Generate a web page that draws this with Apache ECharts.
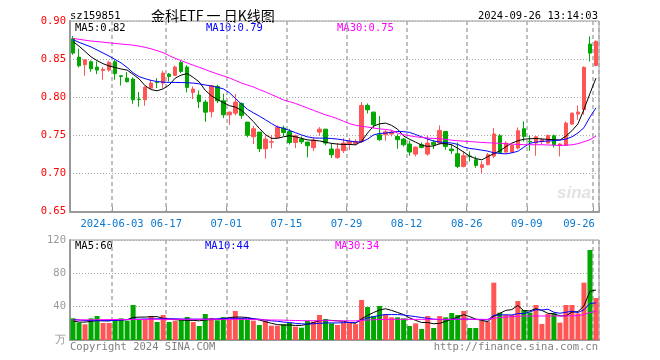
<!DOCTYPE html>
<html><head><meta charset="utf-8">
<script src="https://cdn.jsdelivr.net/npm/echarts@6/dist/echarts.min.js"></script>
<style>html,body{margin:0;padding:0;background:#fff}#c{width:660px;height:360px}</style>
</head><body><div id="c"></div>
<script>
const dates = [
'2024-05-23','2024-05-24','2024-05-27','2024-05-28','2024-05-29','2024-05-30','2024-05-31',
'2024-06-03','2024-06-04','2024-06-05','2024-06-06','2024-06-07','2024-06-11','2024-06-12','2024-06-13','2024-06-14',
'2024-06-17','2024-06-18','2024-06-19','2024-06-20','2024-06-21','2024-06-24','2024-06-25','2024-06-26','2024-06-27','2024-06-28',
'2024-07-01','2024-07-02','2024-07-03','2024-07-04','2024-07-05','2024-07-08','2024-07-09','2024-07-10','2024-07-11','2024-07-12',
'2024-07-15','2024-07-16','2024-07-17','2024-07-18','2024-07-19','2024-07-22','2024-07-23','2024-07-24','2024-07-25','2024-07-26',
'2024-07-29','2024-07-30','2024-07-31','2024-08-01','2024-08-02','2024-08-05','2024-08-06','2024-08-07','2024-08-08','2024-08-09',
'2024-08-12','2024-08-13','2024-08-14','2024-08-15','2024-08-16','2024-08-19','2024-08-20','2024-08-21','2024-08-22','2024-08-23',
'2024-08-26','2024-08-27','2024-08-28','2024-08-29','2024-08-30','2024-09-02','2024-09-03','2024-09-04','2024-09-05','2024-09-06',
'2024-09-09','2024-09-10','2024-09-11','2024-09-12','2024-09-13','2024-09-18','2024-09-19','2024-09-20',
'2024-09-23','2024-09-24','2024-09-25','2024-09-26'];
const tickDates = ['2024-06-03','2024-06-17','2024-07-01','2024-07-15','2024-07-29','2024-08-12','2024-08-26','2024-09-09','2024-09-26'];

const openP = [.8767,.8526,.8426,.8465,.8395,.8351,.8356,.8465,.8281,.8251,
 .8238,.7975,.7966,.8119,.8198,.8185,.8303,.8286,.8456,.8395,
 .8063,.8028,.7936,.7809,.8141,.7953,.7769,.7791,.7918,.7673,
 .7481,.7542,.7324,.7410,.7472,.7594,.7550,.7406,.7450,.7411,
 .7337,.7542,.7581,.7319,.7210,.7298,.7394,.7389,.7415,.7892,
 .7804,.7507,.7507,.7516,.7485,.7450,.7385,.7253,.7376,.7254,
 .7407,.7398,.7551,.7319,.7258,.7092,.7227,.7180,.7079,.7114,
 .7227,.7494,.7280,.7280,.7332,.7586,.7420,.7398,.7420,.7398,
 .7494,.7367,.7367,.7647,.7778,.7835,.8697,.8417];
const closeP = [.8579,.8413,.8491,.8373,.8356,.8364,.8456,.8308,.8273,.8203,
 .7966,.7970,.8133,.8185,.8194,.8316,.8273,.8395,.8338,.8128,
 .8106,.7940,.7804,.8150,.7953,.7769,.7804,.7936,.7761,.7500,
 .7586,.7324,.7450,.7415,.7607,.7537,.7406,.7494,.7415,.7363,
 .7437,.7581,.7398,.7245,.7319,.7398,.7420,.7420,.7892,.7835,
 .7638,.7442,.7546,.7542,.7442,.7376,.7280,.7345,.7341,.7398,
 .7376,.7564,.7354,.7297,.7092,.7232,.7223,.7105,.7114,.7245,
 .7517,.7275,.7398,.7367,.7560,.7485,.7415,.7481,.7441,.7498,
 .7376,.7385,.7660,.7791,.7805,.8391,.8579,.8732];
const lowP = [.8557,.8390,.8281,.8334,.8303,.8229,.8334,.8229,.8154,.8194,
 .7914,.7875,.7888,.8106,.8119,.8119,.8207,.8280,.8316,.8063,
 .7975,.7857,.7678,.7734,.7923,.7726,.7638,.7761,.7717,.7474,
 .7385,.7280,.7193,.7330,.7463,.7490,.7380,.7332,.7385,.7210,
 .7293,.7494,.7367,.7202,.7190,.7267,.7306,.7370,.7400,.7787,
 .7594,.7428,.7428,.7485,.7323,.7354,.7232,.7223,.7330,.7232,
 .7320,.7376,.7310,.7254,.7070,.7079,.7157,.7074,.7000,.7105,
 .7200,.7262,.7262,.7270,.7315,.7420,.7297,.7232,.7376,.7390,
 .7341,.7223,.7367,.7638,.7704,.7770,.8469,.8405];
const highP = [.8802,.8636,.8500,.8483,.8470,.8395,.8478,.8491,.8290,.8330,
 .8260,.8067,.8141,.8229,.8250,.8347,.8316,.8417,.8483,.8420,
 .8141,.8089,.7966,.8160,.8163,.8045,.7810,.8041,.7931,.7673,
 .7621,.7542,.7500,.7505,.7629,.7625,.7581,.7510,.7485,.7415,
 .7468,.7607,.7581,.7398,.7398,.7463,.7463,.7450,.7936,.7918,
 .7810,.7752,.7568,.7573,.7516,.7463,.7428,.7354,.7407,.7494,
 .7440,.7630,.7556,.7376,.7407,.7290,.7290,.7223,.7157,.7267,
 .7594,.7516,.7420,.7380,.7603,.7682,.7498,.7489,.7463,.7510,
 .7510,.7398,.7682,.7796,.7892,.8405,.8797,.8745];
const ma5 = [.873,.867,.860,.853,.848,.844,.841,.839,.837,.8356,
 .830,.824,.815,.810,.8084,.811,.816,.825,.829,.831,
 .826,.820,.809,.802,.797,.793,.789,.787,.783,.776,
 .768,.759,.751,.746,.746,.748,.7495,.748,.746,.744,
 .7434,.7426,.741,.7394,.7385,.738,.738,.7375,.742,.753,
 .762,.765,.766,.763,.758,.749,.7447,.741,.737,.7355,
 .736,.739,.739,.7376,.733,.728,.7225,.7195,.7178,.722,
 .726,.7296,.735,.7397,.7428,.7448,.7455,.7458,.7452,.7446,
 .7442,.7438,.749,.756,.765,.784,.805,.825];
const ma10 = [.8755,.872,.869,.866,.862,.858,.854,.8495,.845,.839,
 .832,.827,.8243,.822,.8205,.8198,.8194,.8194,.8192,.819,
 .8185,.8175,.816,.8148,.813,.811,.806,.7985,.791,.7842,
 .7795,.7752,.7705,.7655,.761,.7592,.7565,.7535,.7505,.748,
 .7465,.7463,.7463,.7458,.745,.7438,.7425,.7413,.7412,.745,
 .7505,.7525,.7529,.754,.755,.7548,.7538,.751,.748,.745,
 .7425,.7412,.7405,.7399,.738,.7345,.7327,.7318,.7305,.7292,
 .727,.7262,.7256,.727,.729,.7345,.7395,.741,.742,.7425,
 .743,.7438,.745,.748,.753,.76,.774,.786];
const ma30 = [.8772,.876,.8748,.8737,.873,.8722,.8714,.8706,.8698,.869,
 .8683,.867,.8654,.8635,.861,.8585,.8545,.851,.848,.845,
 .842,.8392,.8363,.8333,.8305,.828,.8253,.822,.8186,.816,
 .8134,.81,.807,.8035,.80,.7964,.7942,.7918,.7888,.7858,
 .7828,.7798,.7768,.7745,.7718,.7684,.7653,.7632,.7618,.7608,
 .7595,.7584,.7577,.7565,.753,.7508,.7494,.7481,.7472,.7463,
 .7459,.7455,.7446,.7436,.7429,.7423,.7418,.7412,.7406,.7402,
 .7399,.7395,.7389,.7384,.738,.7377,.7376,.7376,.7376,.7373,
 .737,.7367,.7371,.7375,.739,.7415,.7442,.749];
const volume = [26,20.8,18.8,26,28.8,20.4,20.4,24,26,23.2,
 42,24.8,24,28.8,21.6,30,21.6,23.2,24.8,27.6,
 21.6,16.8,31.2,26.4,23.6,27.6,24.8,34.8,26,24.8,
 23.2,18,23.2,17.2,17.2,18.8,20.8,16,14.8,22.8,
 22,30,24.8,20,18,20.8,20.8,19,48,39.6,
 28.8,40.8,31.2,27.2,27.2,26,16.8,20,13.2,28.8,
 14.4,28.8,27.2,32.4,30,34.8,14.4,14.4,23.2,22,
 68.8,32.8,30,30,46.8,36,32.8,42,19.2,31.2,
 32,20.8,42,42,32,68.8,108,50.4];
const vma5 = [23,21.5,21.5,22.5,23.5,23,23,24,24,24.5,
 27,27.5,27.5,28,28,26,25,24.5,24,23.5,
 23.5,23,24,24.5,24.5,25,27,27.5,27.5,27,
 25.5,24,22,20,18.5,18,18,17.5,17.5,19,
 21,23,24,23.5,23,22.5,21,20,25.5,29.5,
 33,36,37.5,35.5,33,30.5,26.5,23.5,21,21,
 19.5,20,22.5,25,27.5,30.5,28,25,23.5,22,
 28.5,32,35.5,36.5,41.5,35,35,37.5,35.5,32,
 31.5,29,29,33.5,34,41,58.5,60];
const vma10 = [24.8,24,23.5,23.2,23.2,23.2,23.2,23.5,24,24.5,
 25,25,25.2,25.2,25.5,25.5,25.5,25.5,25.2,25.2,
 25,25,25,25.2,25.5,25.8,26,26,26,26,
 25.5,25,24,23,22.5,21.5,21,20,19.5,19,
 19.5,20,20.5,20.5,20.5,20.8,21,21,24,26.5,
 28,29.5,30.5,30.5,30.5,30,29,28,27,26,
 25,24.5,24.5,24.8,24.8,25,25,24.8,24.5,24.2,
 29.6,30,30.3,30,31.7,31.8,33.7,36.4,36,37,
 33.3,32.1,33.3,34.5,33,36.3,43.8,44.6];
const vma30 = [24,24,24.2,24.2,24.4,24.4,24.5,24.5,24.5,24.5,
 24.6,24.6,24.6,24.8,24.8,24.8,24.8,24.8,24.8,24.8,
 24.8,24.8,24.8,24.8,24.8,24.8,24.8,24.8,24.8,24.8,
 24.6,24.4,24.2,24,24,23.8,23.6,23.4,23.2,23.2,
 23.2,23.2,23.2,23.2,23,23,23,23,23.5,24,
 24.3,24.6,24.8,24.8,24.8,24.8,24.8,24.8,24.8,24.8,
 24.8,24.8,24.8,24.8,24.8,24.8,24.8,24.8,24.8,24.8,
 26,27,27.5,28,28.5,28.8,28.8,28.8,28.8,28.8,
 28.8,28.8,29,29,29.2,30.5,33,34.5];

const RED = '#ff5555', GREEN = '#00a800';
const MONO = '"DejaVu Sans Mono", monospace';
const tickIdx = tickDates.map(d => dates.indexOf(d));
const isTick = (i) => tickIdx.indexOf(i) >= 0;
const lastTick = tickDates[tickDates.length - 1];

const chart = echarts.init(document.getElementById('c'));
const vGrid = {show: true, interval: (i) => isTick(i), lineStyle: {color: '#aaa', type: [4, 3], width: 1.5}};
const maLine = (data, color, x, y) => ({type: 'line', data, xAxisIndex: x, yAxisIndex: y, symbol: 'none', showSymbol: false,
  lineStyle: {color, width: 1}, itemStyle: {color}, z: 5, silent: true});
const gfx = (x, y, text, fill, extra) => Object.assign({type: 'text', x, y, silent: true,
  style: Object.assign({text, fill, font: '10.5px ' + MONO, verticalAlign: 'middle'}, extra || {})});

chart.setOption({
  animation: false,
  backgroundColor: '#fff',
  grid: [
    {left: 70, right: 61, top: 21, height: 190.5, show: true, borderColor: '#999', borderWidth: 1, outerBoundsMode: 'none'},
    {left: 70, right: 61, top: 240, height: 100, show: true, borderColor: '#999', borderWidth: 1, outerBoundsMode: 'none'}
  ],
  xAxis: [
    {type: 'category', gridIndex: 0, data: dates, boundaryGap: true,
     axisLine: {lineStyle: {color: '#999', width: 2}},
     axisTick: {show: true, inside: true, length: 5, interval: (i) => isTick(i), lineStyle: {color: '#999'}},
     axisLabel: {interval: (i) => isTick(i), margin: 7, hideOverlap: false,
       formatter: (v) => v === lastTick ? '{e|' + v.slice(5) + '}' : (v === tickDates[0] ? '{n|' + v + '}' : '{n|' + v.slice(5) + '}'),
       rich: {n: {color: '#0a78d0', fontFamily: MONO, fontSize: 10.5, padding: [0, 6, 0, 0]},
              e: {color: '#0a78d0', fontFamily: MONO, fontSize: 10.5, padding: [0, 34, 0, 0]}}},
     splitLine: vGrid},
    {type: 'category', gridIndex: 1, data: dates, boundaryGap: true,
     axisLine: {lineStyle: {color: '#999', width: 2}}, axisTick: {show: false}, axisLabel: {show: false},
     splitLine: vGrid}
  ],
  yAxis: [
    {type: 'value', gridIndex: 0, min: 0.65, max: 0.90, interval: 0.05,
     axisLine: {show: true, lineStyle: {color: '#999', width: 2}}, axisTick: {show: false},
     axisLabel: {color: '#ff0000', fontFamily: MONO, fontSize: 10.5, margin: 4, formatter: (v) => v.toFixed(2)},
     splitLine: {show: true, lineStyle: {color: '#aaa', type: [1, 2], width: 1}}},
    {type: 'value', gridIndex: 1, min: 0, max: 120, interval: 40,
     axisLine: {show: true, lineStyle: {color: '#999', width: 2}}, axisTick: {show: false},
     axisLabel: {color: '#999', fontFamily: MONO, fontSize: 10.5, margin: 4, formatter: (v) => v === 0 ? '万' : String(v)},
     splitLine: {show: true, lineStyle: {color: '#aaa', type: [1, 2], width: 1}}}
  ],
  series: [
    {type: 'candlestick', xAxisIndex: 0, yAxisIndex: 0, barWidth: 4, z: 3,
     data: dates.map((d, i) => [openP[i], closeP[i], lowP[i], highP[i]]),
     itemStyle: {color: RED, color0: GREEN, borderColor: RED, borderColor0: GREEN, borderWidth: 1}},
    maLine(ma5, '#000000', 0, 0),
    maLine(ma10, '#0000ff', 0, 0),
    maLine(ma30, '#ff00ff', 0, 0),
    {type: 'bar', xAxisIndex: 1, yAxisIndex: 1, barWidth: 5, z: 3,
     data: volume.map((v, i) => ({value: v, itemStyle: {color: closeP[i] >= openP[i] ? RED : GREEN}}))},
    maLine(vma5, '#000000', 1, 1),
    maLine(vma10, '#0000ff', 1, 1),
    maLine(vma30, '#ff00ff', 1, 1)
  ],
  graphic: [
    gfx(70, 16, 'sz159851', '#000'),
    {type: 'text', x: 151, y: 16, silent: true, style: {text: '金科ETF 一 日K线图', fill: '#000', font: '14px "Noto Sans CJK SC"', verticalAlign: 'middle'}},
    gfx(598, 16, '2024-09-26 13:14:03', '#000', {align: 'right'}),
    gfx(75, 28, 'MA5:0.82', '#000'),
    gfx(206, 28, 'MA10:0.79', '#0000ff'),
    gfx(337, 28, 'MA30:0.75', '#ff00ff'),
    gfx(75, 246, 'MA5:60', '#000'),
    gfx(205, 246, 'MA10:44', '#0000ff'),
    gfx(335, 246, 'MA30:34', '#ff00ff'),
    gfx(70, 347, 'Copyright 2024 SINA.COM', '#808080'),
    gfx(598, 347, 'http://finance.sina.com.cn', '#808080', {align: 'right'}),
    {type: 'text', x: 574, y: 193, silent: true, style: {text: 'sina', fill: '#e2e2e2', font: 'italic bold 17px "Liberation Sans"', align: 'center', verticalAlign: 'middle'}}
  ]
});
</script></body></html>
